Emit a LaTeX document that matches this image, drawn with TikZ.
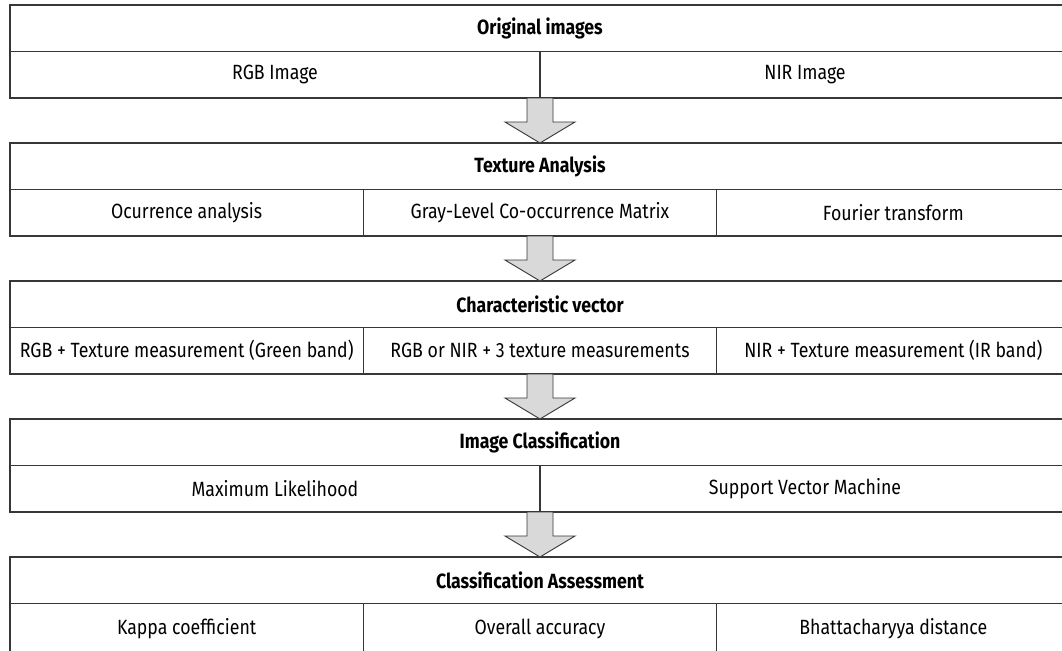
\documentclass[tikz,border=0pt]{standalone}
\usepackage{fontspec}
\setmainfont{Fira Sans}[FakeStretch=0.86]
\usetikzlibrary{positioning, calc}
\definecolor{framegray}{RGB}{55,55,55}
\definecolor{arrowfill}{RGB}{217,217,217}

\tikzset{
  headbox/.style={draw=framegray, line width=0.75pt, outer sep=0pt, inner sep=0pt,
    minimum width=530pt, minimum height=23.25pt, font=\fontsize{10.3}{12}\selectfont\bfseries},
  cellbox/.style={draw=framegray, line width=0.75pt, outer sep=0pt, inner sep=0pt,
    minimum height=23.25pt, font=\fontsize{10.3}{12}\selectfont},
  halfcell/.style={cellbox, minimum width=265pt},
  thirdcell/.style={cellbox, minimum width=176.667pt},
  arrowbox/.style={draw=framegray, fill=arrowfill, line width=0.45pt, line join=miter}
}

% hollow arrow from the bottom of one block down to the next block
\newcommand{\flowarrow}[2]{%
  \draw[arrowbox] ($(#1)+(-13,0)$) -- ($(#1)+(13,0)$) -- ($(#1)+(13,24)$)
    -- ($(#1)+(35,24)$) -- (#2) -- ($(#1)+(-35,24)$) -- ($(#1)+(-13,24)$) -- cycle;}

\begin{document}
\begin{tikzpicture}[x=0.5pt, y=-0.5pt]
    \useasboundingbox (0,0) rectangle (1062,650);
    \clip (0,0) rectangle (1062,650);

    % Original images
    \node[headbox] (orig) at (540,28.25) {Original images};
    \node[halfcell, below right=0pt and 0pt of orig.south west] (rgb) {RGB Image};
    \node[halfcell, right=0pt of rgb] (nir) {NIR Image};

    % Texture analysis
    \node[headbox] (tex) at (540,166.25) {Texture Analysis};
    \node[thirdcell, below right=0pt and 0pt of tex.south west] (occ) {Ocurrence analysis};
    \node[thirdcell, right=0pt of occ] (glcm) {Gray-Level Co-occurrence Matrix};
    \node[thirdcell, right=0pt of glcm] (fourier) {Fourier transform};

    % Characteristic vector
    \node[headbox] (vec) at (540,304.25) {Characteristic vector};
    \node[thirdcell, below right=0pt and 0pt of vec.south west] (green) {RGB + Texture measurement (Green band)};
    \node[thirdcell, right=0pt of green] (three) {RGB or NIR + 3 texture measurements};
    \node[thirdcell, right=0pt of three] (irband) {NIR + Texture measurement (IR band)};

    % Image classification
    \node[headbox] (cls) at (540,442.25) {Image Classification};
    \node[halfcell, below right=0pt and 0pt of cls.south west] (ml) {Maximum Likelihood};
    \node[halfcell, right=0pt of ml] (svm) {Support Vector Machine};

    % Classification assessment
    \node[headbox] (assess) at (540,580.25) {Classification Assessment};
    \node[thirdcell, minimum height=25pt, below right=0pt and 0pt of assess.south west] (kappa) {Kappa coefficient};
    \node[thirdcell, minimum height=25pt, right=0pt of kappa] (overall) {Overall accuracy};
    \node[thirdcell, minimum height=25pt, right=0pt of overall] (bhatt) {Bhattacharyya distance};

    % Arrows between the blocks
    \flowarrow{rgb.south east}{tex.north}
    \flowarrow{glcm.south}{vec.north}
    \flowarrow{three.south}{cls.north}
    \flowarrow{ml.south east}{assess.north}
\end{tikzpicture}
\end{document}
